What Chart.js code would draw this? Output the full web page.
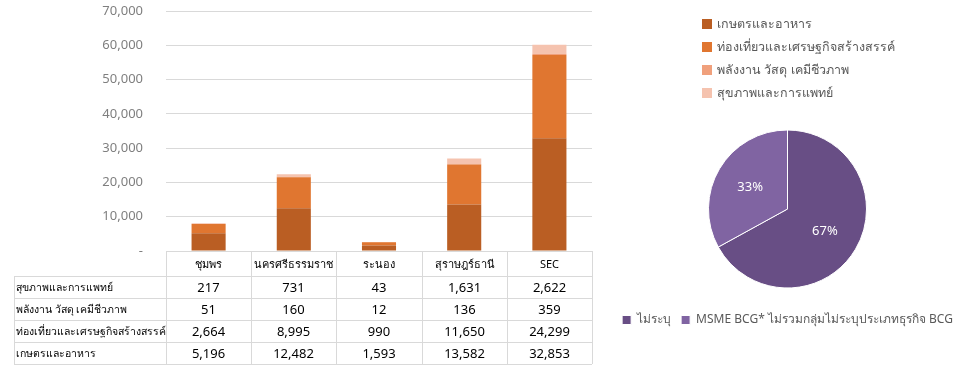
<!DOCTYPE html>
<html>
<head>
<meta charset="utf-8">
<script src="https://cdn.jsdelivr.net/npm/chart.js@4/dist/chart.umd.min.js"></script>
<style>
html, body { margin: 0; padding: 0; background: #fff; }
#wrap { position: relative; width: 975px; height: 365px; }
#bar { position: absolute; left: 0; top: 0; }
#pie { position: absolute; left: 600px; top: 114px; }
</style>
</head>
<body>
<div id="wrap">
  <canvas id="bar" width="975" height="365"></canvas>
  <canvas id="pie" width="375" height="222"></canvas>
</div>
<script>
// categories and series
var provinces   = ['ชุมพร', 'นครศรีธรรมราช', 'ระนอง', 'สุราษฎร์ธานี', 'SEC'];
var seriesNames = ['เกษตรและอาหาร', 'ท่องเที่ยวและเศรษฐกิจสร้างสรรค์', 'พลังงาน วัสดุ เคมีชีวภาพ', 'สุขภาพและการแพทย์'];
var agriFood    = [5196, 12482, 1593, 13582, 32853];
var tourism     = [2664, 8995, 990, 11650, 24299];
var energy      = [51, 160, 12, 136, 359];
var health      = [217, 731, 43, 1631, 2622];
var yMax        = 70000;
var yStep       = 10000;

var pieLabels = ['ไม่ระบุ', 'MSME BCG* ไม่รวมกลุ่มไม่ระบุประเภทธุรกิจ BCG'];
var pieValues = [67, 33];

var FONT = "Tahoma, 'Noto Sans', sans-serif";
Chart.defaults.font.family = FONT;
Chart.defaults.animation = false;

var barColors = ['#BA5E23', '#E07630', '#F0A07C', '#F5C3AF'];
var pieColors = ['#684E85', '#8064A2'];

function fmt(v) {
    if (v === 0) return '-';
    return v.toLocaleString('en-US');
}

// data table under the bars (excel style)
var tablePlugin = {
    id: 'dataTable',
    afterDraw: function(chart) {
        var ctx  = chart.ctx;
        var xs   = chart.scales.x;
        var area = chart.chartArea;
        var rows = [
            [seriesNames[3], health],
            [seriesNames[2], energy],
            [seriesNames[1], tourism],
            [seriesNames[0], agriFood]
        ];
        var step  = xs.getPixelForValue(1) - xs.getPixelForValue(0);
        var edges = [];
        for (var i = 0; i <= provinces.length; i++) {
            edges.push(Math.round(xs.getPixelForValue(i) - step / 2));
        }
        var top    = Math.round(area.bottom);
        var headH  = 25;
        var rowH   = 22;
        var left   = 14;
        var bottom = top + headH + rowH * rows.length;

        ctx.save();
        ctx.strokeStyle = '#D9D9D9';
        ctx.lineWidth = 1;
        ctx.beginPath();
        ctx.moveTo(edges[0], top + 0.5);
        ctx.lineTo(edges[edges.length - 1], top + 0.5);
        for (var r = 0; r <= rows.length; r++) {
            var y = top + headH + r * rowH + 0.5;
            ctx.moveTo(left, y);
            ctx.lineTo(edges[edges.length - 1], y);
        }
        for (var e = 0; e < edges.length; e++) {
            ctx.moveTo(edges[e] + 0.5, top);
            ctx.lineTo(edges[e] + 0.5, bottom);
        }
        ctx.moveTo(left + 0.5, top + headH);
        ctx.lineTo(left + 0.5, bottom);
        ctx.stroke();

        ctx.fillStyle = '#000';
        ctx.textBaseline = 'middle';
        ctx.textAlign = 'center';
        ctx.font = '11px ' + FONT;
        for (var c = 0; c < provinces.length; c++) {
            ctx.fillText(provinces[c], (edges[c] + edges[c + 1]) / 2, top + headH / 2 + 1);
        }
        for (var k = 0; k < rows.length; k++) {
            var cy = top + headH + k * rowH + rowH / 2 + 1;
            ctx.textAlign = 'left';
            ctx.font = '10.5px ' + FONT;
            ctx.fillText(rows[k][0], left + 2, cy);
            ctx.textAlign = 'center';
            ctx.font = '13px ' + FONT;
            for (var j = 0; j < provinces.length; j++) {
                ctx.fillText(fmt(rows[k][1][j]), (edges[j] + edges[j + 1]) / 2, cy);
            }
        }
        ctx.restore();
    }
};

// legend for the stacked bars, off to the right
var barLegendPlugin = {
    id: 'barLegend',
    afterDraw: function(chart) {
        var ctx = chart.ctx;
        ctx.save();
        ctx.font = '12.5px ' + FONT;
        ctx.textBaseline = 'middle';
        ctx.textAlign = 'left';
        chart.data.datasets.forEach(function(ds, i) {
            var y = 24 + i * 23;
            ctx.fillStyle = ds.backgroundColor;
            ctx.fillRect(702, Math.round(y - 5), 10, 10);
            ctx.fillStyle = '#595959';
            ctx.fillText(ds.label, 717, y);
        });
        ctx.restore();
    }
};

var barDatasets = [agriFood, tourism, energy, health].map(function(d, i) {
    return {
        label: seriesNames[i],
        data: d,
        backgroundColor: barColors[i],
        borderWidth: 0,
        barPercentage: 0.4,
        categoryPercentage: 1
    };
});

var barChart = new Chart(document.getElementById('bar'), {
    type: 'bar',
    data: { labels: provinces, datasets: barDatasets },
    options: {
        responsive: false,
        layout: { padding: { top: 11, right: 383, bottom: 114, left: 0 } },
        plugins: { legend: { display: false }, tooltip: { enabled: false } },
        scales: {
            x: { stacked: true, display: false },
            y: {
                stacked: true,
                min: 0,
                max: yMax,
                ticks: {
                    stepSize: yStep,
                    padding: 0,
                    color: '#7F7F7F',
                    font: { size: 13 },
                    callback: function(v) { return fmt(v); }
                },
                grid: { color: '#D9D9D9', drawTicks: true, tickLength: 23, tickColor: 'rgba(0,0,0,0)' },
                border: { display: false },
                afterFit: function(scale) { scale.width = 166; }
            }
        }
    },
    plugins: [tablePlugin, barLegendPlugin]
});

// percent labels inside slices
var pieLabelPlugin = {
    id: 'pieLabels',
    afterDatasetsDraw: function(chart) {
        var ctx  = chart.ctx;
        var meta = chart.getDatasetMeta(0);
        var data = chart.data.datasets[0].data;
        var total = data.reduce(function(a, b) { return a + b; }, 0);
        ctx.save();
        ctx.fillStyle = '#fff';
        ctx.font = '13px ' + FONT;
        ctx.textAlign = 'center';
        ctx.textBaseline = 'middle';
        meta.data.forEach(function(arc, i) {
            var p = arc.getProps(['x', 'y', 'startAngle', 'endAngle', 'outerRadius'], true);
            var mid = (p.startAngle + p.endAngle) / 2;
            var d = p.outerRadius * 0.55;
            ctx.fillText(Math.round(data[i] / total * 100) + '%', p.x + Math.cos(mid) * d, p.y + Math.sin(mid) * d);
        });
        ctx.restore();
    }
};

var pieChart = new Chart(document.getElementById('pie'), {
    type: 'pie',
    data: {
        labels: pieLabels,
        datasets: [{
            data: pieValues,
            backgroundColor: pieColors,
            borderColor: '#fff',
            borderWidth: 1,
            radius: 79
        }]
    },
    options: {
        responsive: false,
        plugins: {
            tooltip: { enabled: false },
            legend: {
                position: 'bottom',
                labels: {
                    boxWidth: 9,
                    boxHeight: 9,
                    color: '#595959',
                    font: { size: 12 },
                    padding: 10
                }
            }
        }
    },
    plugins: [pieLabelPlugin]
});
</script>
</body>
</html>
